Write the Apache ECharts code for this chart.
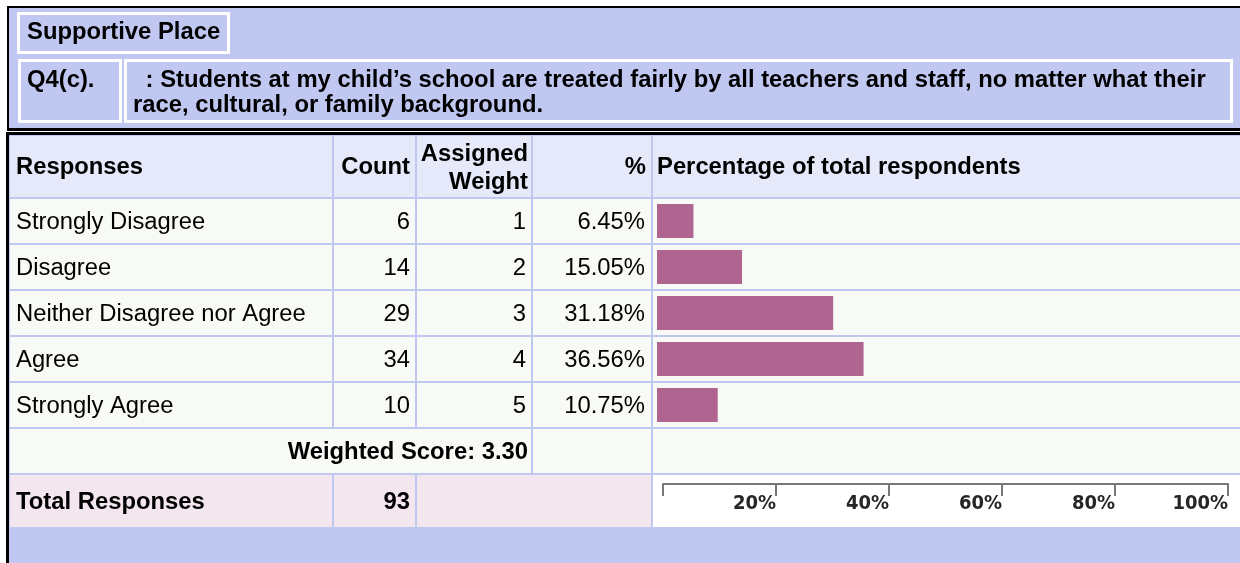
<!DOCTYPE html>
<html>
<head>
<meta charset="utf-8">
<script src="https://cdn.jsdelivr.net/npm/echarts@6/dist/echarts.min.js"></script>
<style>
    html, body {
        margin: 0;
        padding: 0;
        background: #ffffff;
    }
    #chart {
        width: 1240px;
        height: 563px;
    }
</style>
</head>
<body>
<div id="chart"></div>
<script>
const sectionTitle = 'Supportive Place';
const questionId = 'Q4(c).';
const questionLines = [
    ' : Students at my child\u2019s school are treated fairly by all teachers and staff, no matter what their',
    'race, cultural, or family background.'
];
const headers = ['Responses', 'Count', 'Assigned', 'Weight', '%', 'Percentage of total respondents'];
const responses = ['Strongly Disagree', 'Disagree', 'Neither Disagree nor Agree', 'Agree', 'Strongly Agree'];
const counts = [6, 14, 29, 34, 10];
const weights = [1, 2, 3, 4, 5];
const percents = [6.45, 15.05, 31.18, 36.56, 10.75];
const weightedScore = '3.30';
const totalResponses = 93;
const scaleTicks = [0, 20, 40, 60, 80, 100];

const BLUE = '#c0c8f2';
const HEAD = '#e6e9fa';
const ROW = '#f8faf5';
const PINK = '#f4e6ef';
const BAR = '#b06490';
const FONT = '"Liberation Sans", Arial, Helvetica, sans-serif';

// layout of the lower table
const colEdges = [10, 333, 416, 532, 652, 1240];
const headTop = 136, headBottom = 197;
const rowTop = 199, rowH = 46;
const TEXT_DY = 2;

function rect(x, y, w, h, fill, z) {
    return {type: 'rect', silent: true, z: z || 0, shape: {x: x, y: y, width: w, height: h}, style: {fill: fill}};
}

function frame(x, y, w, h) {
    return {
        type: 'rect', silent: true, z: 1,
        shape: {x: x, y: y, width: w, height: h},
        style: {fill: 'none', stroke: '#ffffff', lineWidth: 3}
    };
}

function text(str, x, y, align, bold) {
    return {
        type: 'text', silent: true, z: 5,
        x: x, y: y + TEXT_DY, scaleX: 1.035, scaleY: 1,
        style: {
            text: str,
            fontSize: 23,
            fontWeight: bold ? 'bold' : 'normal',
            fontFamily: FONT,
            fill: '#000000',
            align: align, textAlign: align,
            verticalAlign: 'middle', textVerticalAlign: 'middle'
        }
    };
}

// cell spans [firstCol, lastCol] in colEdges
function cell(c0, c1, y, h, fill) {
    const x0 = colEdges[c0] + (c0 === 0 ? 0 : 1);
    const x1 = colEdges[c1 + 1] - (c1 + 1 === colEdges.length - 1 ? 0 : 1);
    return rect(x0, y, x1 - x0, h, fill, 0);
}

const elements = [];

// panel and borders
elements.push(rect(7, 6, 1233, 557, BLUE, 0));
elements.push(rect(7, 6, 1233, 2, '#000000', 1));
elements.push(rect(7, 6, 2, 125, '#000000', 1));
elements.push(rect(7, 128, 1233, 3, '#000000', 1));
elements.push(rect(7, 131, 1233, 1, '#ffffff', 1));
elements.push(rect(6, 132, 1234, 3, '#000000', 1));
elements.push(rect(6, 132, 3, 431, '#000000', 1));

// title boxes
elements.push(frame(18.5, 13.5, 210, 39));
elements.push(frame(19.5, 60.5, 101, 61));
elements.push(frame(125.5, 60.5, 1106, 61));
elements.push(text(sectionTitle, 27, 31, 'left', true));
elements.push(text(questionId, 27, 79, 'left', true));
elements.push(text(questionLines[0], 139, 79, 'left', true));
elements.push(text(questionLines[1], 133, 104, 'left', true));

// header row
for (let c = 0; c < 5; c++) {
    elements.push(cell(c, c, headTop, headBottom - headTop, HEAD));
}
elements.push(text(headers[0], 16, 166, 'left', true));
elements.push(text(headers[1], 410, 166, 'right', true));
elements.push(text(headers[2], 528, 153, 'right', true));
elements.push(text(headers[3], 528, 181, 'right', true));
elements.push(text(headers[4], 646, 166, 'right', true));
elements.push(text(headers[5], 657, 166, 'left', true));

// response rows
responses.forEach(function (name, i) {
    const y = rowTop + i * rowH;
    const cy = y + (rowH - 2) / 2;
    for (let c = 0; c < 5; c++) {
        elements.push(cell(c, c, y, rowH - 2, ROW));
    }
    elements.push(text(name, 16, cy, 'left', false));
    elements.push(text(String(counts[i]), 410, cy, 'right', false));
    elements.push(text(String(weights[i]), 526, cy, 'right', false));
    elements.push(text(percents[i].toFixed(2) + '%', 645, cy, 'right', false));
});

// weighted score row
const wsTop = rowTop + responses.length * rowH;
elements.push(cell(0, 2, wsTop, rowH - 2, ROW));
elements.push(cell(3, 3, wsTop, rowH - 2, ROW));
elements.push(cell(4, 4, wsTop, rowH - 2, ROW));
elements.push(text('Weighted Score: ' + weightedScore, 528, wsTop + 22, 'right', true));

// total row
const totTop = wsTop + rowH;
const totH = 52;
elements.push(cell(0, 0, totTop, totH, PINK));
elements.push(cell(1, 1, totTop, totH, PINK));
elements.push(cell(2, 3, totTop, totH, PINK));
elements.push(cell(4, 4, totTop, totH, '#ffffff'));
elements.push(text('Total Responses', 16, totTop + 26, 'left', true));
elements.push(text(String(totalResponses), 410, totTop + 26, 'right', true));

// line colour behind the cells
elements.unshift(rect(10, 135, 1230, 393, BLUE, 0));
elements.unshift(rect(0, 0, 1240, 563, '#ffffff', 0));

const chart = echarts.init(document.getElementById('chart'), null, {renderer: 'canvas'});

chart.setOption({
    animation: false,
    backgroundColor: '#ffffff',
    graphic: {elements: elements},
    grid: [
        {left: 657, top: 198, width: 565, height: responses.length * rowH},
        {left: 663, top: 484, width: 565, height: 20}
    ],
    xAxis: [
        {gridIndex: 0, type: 'value', min: 0, max: 100, show: false},
        {
            gridIndex: 1, type: 'value', position: 'top', z: 6,
            min: scaleTicks[0], max: scaleTicks[scaleTicks.length - 1], interval: 20,
            axisLine: {show: true, onZero: false, lineStyle: {color: '#777777', width: 2}},
            axisTick: {show: true, inside: true, length: 12, lineStyle: {color: '#777777', width: 2}},
            splitLine: {show: false},
            axisLabel: {
                inside: true, margin: 10, align: 'right',
                fontSize: 20, fontWeight: 'bold', color: '#262626',
                fontFamily: '"DejaVu Sans Condensed", "Liberation Sans Narrow", sans-serif',
                formatter: function (v) {
                    return v === 0 ? '' : v + '%';
                }
            }
        }
    ],
    yAxis: [
        {gridIndex: 0, type: 'category', inverse: true, data: responses, show: false},
        {gridIndex: 1, type: 'value', show: false}
    ],
    series: [
        {
            type: 'bar',
            xAxisIndex: 0,
            yAxisIndex: 0,
            z: 4,
            barWidth: 34,
            data: percents,
            itemStyle: {color: BAR},
            silent: true
        }
    ]
});
</script>
</body>
</html>
